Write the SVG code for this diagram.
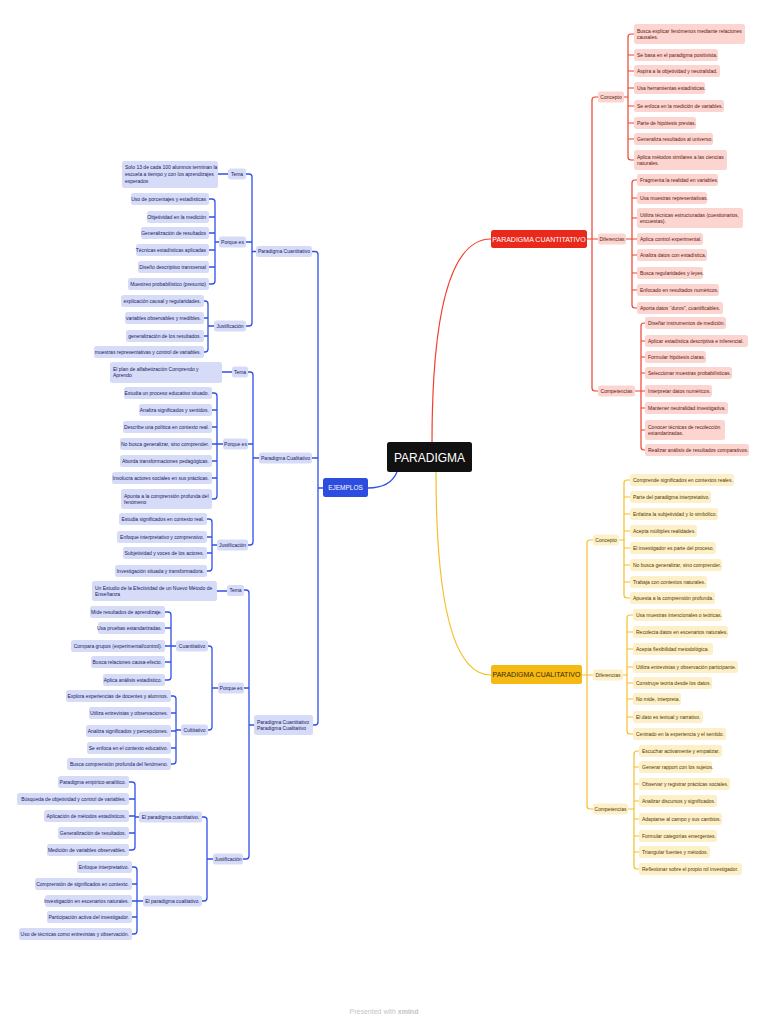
<svg xmlns="http://www.w3.org/2000/svg" width="768" height="1024" viewBox="0 0 768 1024">
<style>
text{font-family:"Liberation Sans",Arial,sans-serif;font-size:5px}
.r{fill:#fcd5d1}.y{fill:#fdf0c9}.b{fill:#d6dbf8}
rect{rx:2.5px}
.tr{fill:#5a170f}.ty{fill:#4d3900}.tb{fill:#18205e}
.m{text-anchor:middle}.e{text-anchor:end}
.cr{fill:none;stroke:#f0402f;stroke-width:1.2}
.cy{fill:none;stroke:#f5bf28;stroke-width:1.2}
.cb{fill:none;stroke:#3050e8;stroke-width:1.3}
.big{font-size:7px;fill:#fff}
</style>
<rect width="768" height="1024" fill="#fff"/>
<g id="connectors">
<path class="cr" stroke-width="1.5" d="M432,443 C432,320 448,239 491,239"/>
<path class="cr" d="M587,239 H598 M598,97 H595 Q592,97 592,100 V388 Q592,391 595,391 H598"/>
<path class="cr" d="M624,97 H628 M634,34 H631 Q628,34 628,37 V157 Q628,160 631,160 H634 M628,55 H634 M628,71 H634 M628,88 H634 M628,106 H634 M628,123 H634 M628,139 H634"/>
<path class="cr" d="M626,239 H632 M637,180 H635 Q632,180 632,183 V305 Q632,308 635,308 H637 M632,198 H637 M632,218 H637 M632,239 H637 M632,255 H637 M632,273 H637 M632,290 H637"/>
<path class="cr" d="M635,391 H641 M645,323 H644 Q641,323 641,326 V447 Q641,450 644,450 H645 M641,341 H645 M641,357 H645 M641,373 H645 M641,391 H645 M641,408 H645 M641,430 H645"/>
<path class="cy" stroke-width="1.5" d="M436,472 C436,600 452,675 491,675"/>
<path class="cy" d="M582,675 H593 M593,540 H590 Q587,540 587,543 V806 Q587,809 590,809 H593"/>
<path class="cy" d="M619,540 H624 M630,480 H627 Q624,480 624,483 V595 Q624,598 627,598 H630 M624,497 H630 M624,514 H630 M624,531 H630 M624,548 H630 M624,565 H630 M624,582 H630"/>
<path class="cy" d="M623,675 H627 M633,615 H630 Q627,615 627,618 V731 Q627,734 630,734 H633 M627,632 H633 M627,649 H633 M627,667 H633 M627,683 H633 M627,699 H633 M627,717 H633"/>
<path class="cy" d="M628,809 H634 M639,751 H637 Q634,751 634,754 V866 Q634,869 637,869 H639 M634,767 H639 M634,784 H639 M634,801 H639 M634,819 H639 M634,836 H639 M634,852 H639"/>
<path class="cb" stroke-width="1.6" d="M397,472 C392,484 382,488 368,488"/>
<path class="cb" d="M323,488 H318 M312,251.5 H315 Q318,251.5 318,254.5 V722 Q318,725 315,725 H313 M318,458 H312"/>
<path class="cb" d="M256,251.5 H252 M246,174 H249 Q252,174 252,177 V323 Q252,326 249,326 H246 M252,242 H246"/>
<path class="cb" stroke-width="1.6" d="M218,174 H228 M222,372 H232 M217,591 H227"/>
<path class="cb" d="M219,242 H215 M209,199 H212 Q215,199 215,202 V281 Q215,284 212,284 H209 M215,217 H209 M215,233 H209 M215,250 H209 M215,267 H209"/>
<path class="cb" d="M214,326 H208 M204,301 H205 Q208,301 208,304 V349 Q208,352 205,352 H204 M208,318 H204 M208,336 H204"/>
<path class="cb" d="M259,458 H253 M248,372 H250 Q253,372 253,375 V542 Q253,545 250,545 H248 M253,444 H248"/>
<path class="cb" d="M223,444 H217 M212,393 H214 Q217,393 217,396 V496 Q217,499 214,499 H212 M217,410 H212 M217,427 H212 M217,444 H212 M217,461 H212 M217,478 H212"/>
<path class="cb" d="M217,545 H212 M207,519 H209 Q212,519 212,522 V568 Q212,571 209,571 H207 M212,537 H207 M212,553 H207"/>
<path class="cb" d="M254,725 H249 M244,590 H246 Q249,590 249,593 V856 Q249,859 246,859 H243 M249,688 H244"/>
<path class="cb" d="M218,688 H212 M208,646 H209 Q212,646 212,649 V727 Q212,730 209,730 H208"/>
<path class="cb" d="M176,646 H171 M165,612 H168 Q171,612 171,615 V677 Q171,680 168,680 H165 M171,628 H165 M171,646 H165 M171,662 H165"/>
<path class="cb" d="M181,730 H176 M171,696 H173 Q176,696 176,699 V761 Q176,764 173,764 H171 M176,713 H171 M176,731 H171 M176,748 H171"/>
<path class="cb" d="M213,859 H207 M202,817 H204 Q207,817 207,820 V898 Q207,901 204,901 H202"/>
<path class="cb" d="M139,817 H135 M129,782 H132 Q135,782 135,785 V847 Q135,850 132,850 H129 M135,799 H129 M135,816 H129 M135,833 H129"/>
<path class="cb" d="M143,901 H137 M132,867 H134 Q137,867 137,870 V931 Q137,934 134,934 H132 M137,884 H132 M137,901 H132 M137,917 H132"/>
</g>
<g id="paradigma"><rect x="387" y="442" width="85" height="30" rx="4" fill="#111"/><text x="429.5" y="461.5" class="m" style="font-size:12px" fill="#fff">PARADIGMA</text></g>
<g id="cuantitativo"><rect x="491" y="230" width="96" height="18" rx="3" fill="#e8291c"/><text x="539" y="241.5" class="m big">PARADIGMA CUANTITATIVO</text></g>
<g id="cualitativo"><rect x="491" y="665" width="91" height="19" rx="3" fill="#f5b913"/><text x="536.5" y="677" class="m big" style="fill:#3b2a00">PARADIGMA CUALITATIVO</text></g>
<g id="ejemplos"><rect x="323" y="478" width="45" height="19" rx="3" fill="#2d4de0"/><text x="345.5" y="490" class="m" style="font-size:6.5px;fill:#fff">EJEMPLOS</text></g>
<g id="r-concepto"><rect class="r" x="598" y="91.5" width="26" height="11"/><text class="tr m" x="611" y="98.8">Concepto</text></g>
<g id="r-diferencias"><rect class="r" x="598" y="233.5" width="28" height="11"/><text class="tr m" x="612" y="240.8">Diferencias</text></g>
<g id="r-competencias"><rect class="r" x="598" y="385.5" width="37" height="11"/><text class="tr m" x="616.5" y="392.8">Competencias</text></g>
<g id="rc1"><rect class="r" x="634" y="24" width="111" height="20"/><text class="tr" x="637" y="32.6">Busca explicar fenómenos mediante relaciones</text><text class="tr" x="637" y="39">causales.</text></g>
<g id="rc2"><rect class="r" x="634" y="49" width="84" height="12"/><text class="tr" x="637" y="56.8">Se basa en el paradigma positivista.</text></g>
<g id="rc3"><rect class="r" x="634" y="65" width="86" height="12"/><text class="tr" x="637" y="72.8">Aspira a la objetividad y neutralidad.</text></g>
<g id="rc4"><rect class="r" x="634" y="82" width="71" height="12"/><text class="tr" x="637" y="89.8">Usa herramientas estadísticas.</text></g>
<g id="rc5"><rect class="r" x="634" y="100" width="90" height="12"/><text class="tr" x="637" y="107.8">Se enfoca en la medición de variables.</text></g>
<g id="rc6"><rect class="r" x="634" y="117" width="62" height="12"/><text class="tr" x="637" y="124.8">Parte de hipótesis previas.</text></g>
<g id="rc7"><rect class="r" x="634" y="133" width="79" height="12"/><text class="tr" x="637" y="140.8">Generaliza resultados al universo.</text></g>
<g id="rc8"><rect class="r" x="634" y="150" width="93" height="20"/><text class="tr" x="637" y="158.6">Aplica métodos similares a las ciencias</text><text class="tr" x="637" y="165">naturales.</text></g>
<g id="rd1"><rect class="r" x="637" y="174" width="81" height="12"/><text class="tr" x="640" y="181.8">Fragmenta la realidad en variables.</text></g>
<g id="rd2"><rect class="r" x="637" y="192" width="70" height="12"/><text class="tr" x="640" y="199.8">Usa muestras representativas.</text></g>
<g id="rd3"><rect class="r" x="637" y="208" width="106" height="20"/><text class="tr" x="640" y="216.6">Utiliza técnicas estructuradas (cuestionarios,</text><text class="tr" x="640" y="223">encuestas).</text></g>
<g id="rd4"><rect class="r" x="637" y="233" width="66" height="12"/><text class="tr" x="640" y="240.8">Aplica control experimental.</text></g>
<g id="rd5"><rect class="r" x="637" y="249" width="70" height="12"/><text class="tr" x="640" y="256.8">Analiza datos con estadística.</text></g>
<g id="rd6"><rect class="r" x="637" y="267" width="66" height="12"/><text class="tr" x="640" y="274.8">Busca regularidades y leyes.</text></g>
<g id="rd7"><rect class="r" x="637" y="284" width="82" height="12"/><text class="tr" x="640" y="291.8">Enfocado en resultados numéricos.</text></g>
<g id="rd8"><rect class="r" x="637" y="302" width="86" height="12"/><text class="tr" x="640" y="309.8">Aporta datos “duros”, cuantificables.</text></g>
<g id="rk1"><rect class="r" x="645" y="317" width="81" height="12"/><text class="tr" x="648" y="324.8">Diseñar instrumentos de medición.</text></g>
<g id="rk2"><rect class="r" x="645" y="335" width="103" height="12"/><text class="tr" x="648" y="342.8">Aplicar estadística descriptiva e inferencial.</text></g>
<g id="rk3"><rect class="r" x="645" y="351" width="61" height="12"/><text class="tr" x="648" y="358.8">Formular hipótesis claras.</text></g>
<g id="rk4"><rect class="r" x="645" y="367" width="87" height="12"/><text class="tr" x="648" y="374.8">Seleccionar muestras probabilísticas.</text></g>
<g id="rk5"><rect class="r" x="645" y="385" width="67" height="12"/><text class="tr" x="648" y="392.8">Interpretar datos numéricos.</text></g>
<g id="rk6"><rect class="r" x="645" y="402" width="83" height="12"/><text class="tr" x="648" y="409.8">Mantener neutralidad investigativa.</text></g>
<g id="rk7"><rect class="r" x="645" y="420" width="80" height="20"/><text class="tr" x="648" y="428.6">Conocer técnicas de recolección</text><text class="tr" x="648" y="435">estandarizadas.</text></g>
<g id="rk8"><rect class="r" x="645" y="444" width="104" height="12"/><text class="tr" x="648" y="451.8">Realizar análisis de resultados comparativos.</text></g>
<g id="y-concepto"><rect class="y" x="593" y="534.5" width="26" height="11"/><text class="ty m" x="606" y="541.8">Concepto</text></g>
<g id="y-diferencias"><rect class="y" x="593" y="669.5" width="30" height="11"/><text class="ty m" x="608" y="676.8">Diferencias</text></g>
<g id="y-competencias"><rect class="y" x="593" y="803.5" width="35" height="11"/><text class="ty m" x="610.5" y="810.8">Competencias</text></g>
<g id="yc1"><rect class="y" x="630" y="474" width="104" height="12"/><text class="ty" x="633" y="481.8">Comprende significados en contextos reales.</text></g>
<g id="yc2"><rect class="y" x="630" y="491" width="81" height="12"/><text class="ty" x="633" y="498.8">Parte del paradigma interpretativo.</text></g>
<g id="yc3"><rect class="y" x="630" y="508" width="88" height="12"/><text class="ty" x="633" y="515.8">Enfatiza la subjetividad y lo simbólico.</text></g>
<g id="yc4"><rect class="y" x="630" y="525" width="67" height="12"/><text class="ty" x="633" y="532.8">Acepta múltiples realidades.</text></g>
<g id="yc5"><rect class="y" x="630" y="542" width="86" height="12"/><text class="ty" x="633" y="549.8">El investigador es parte del proceso.</text></g>
<g id="yc6"><rect class="y" x="630" y="559" width="92" height="12"/><text class="ty" x="633" y="566.8">No busca generalizar, sino comprender.</text></g>
<g id="yc7"><rect class="y" x="630" y="576" width="77" height="12"/><text class="ty" x="633" y="583.8">Trabaja con contextos naturales.</text></g>
<g id="yc8"><rect class="y" x="630" y="592" width="85" height="12"/><text class="ty" x="633" y="599.8">Apuesta a la comprensión profunda.</text></g>
<g id="yd1"><rect class="y" x="633" y="609" width="89" height="12"/><text class="ty" x="636" y="616.8">Usa muestras intencionales o teóricas.</text></g>
<g id="yd2"><rect class="y" x="633" y="626" width="95" height="12"/><text class="ty" x="636" y="633.8">Recolecta datos en escenarios naturales.</text></g>
<g id="yd3"><rect class="y" x="633" y="643" width="80" height="12"/><text class="ty" x="636" y="650.8">Acepta flexibilidad metodológica.</text></g>
<g id="yd4"><rect class="y" x="633" y="661" width="105" height="12"/><text class="ty" x="636" y="668.8">Utiliza entrevistas y observación participante.</text></g>
<g id="yd5"><rect class="y" x="633" y="677" width="79" height="12"/><text class="ty" x="636" y="684.8">Construye teoría desde los datos.</text></g>
<g id="yd6"><rect class="y" x="633" y="693" width="48" height="12"/><text class="ty" x="636" y="700.8">No mide, interpreta.</text></g>
<g id="yd7"><rect class="y" x="633" y="711" width="70" height="12"/><text class="ty" x="636" y="718.8">El dato es textual y narrativo.</text></g>
<g id="yd8"><rect class="y" x="633" y="728" width="93" height="12"/><text class="ty" x="636" y="735.8">Centrado en la experiencia y el sentido.</text></g>
<g id="yk1"><rect class="y" x="639" y="745" width="83" height="12"/><text class="ty" x="642" y="752.8">Escuchar activamente y empatizar.</text></g>
<g id="yk2"><rect class="y" x="639" y="761" width="73" height="12"/><text class="ty" x="642" y="768.8">Generar rapport con los sujetos.</text></g>
<g id="yk3"><rect class="y" x="639" y="778" width="91" height="12"/><text class="ty" x="642" y="785.8">Observar y registrar prácticas sociales.</text></g>
<g id="yk4"><rect class="y" x="639" y="795" width="78" height="12"/><text class="ty" x="642" y="802.8">Analizar discursos y significados.</text></g>
<g id="yk5"><rect class="y" x="639" y="813" width="83" height="12"/><text class="ty" x="642" y="820.8">Adaptarse al campo y sus cambios.</text></g>
<g id="yk6"><rect class="y" x="639" y="830" width="78" height="12"/><text class="ty" x="642" y="837.8">Formular categorías emergentes.</text></g>
<g id="yk7"><rect class="y" x="639" y="846" width="71" height="12"/><text class="ty" x="642" y="853.8">Triangular fuentes y métodos.</text></g>
<g id="yk8"><rect class="y" x="639" y="863" width="103" height="12"/><text class="ty" x="642" y="870.8">Reflexionar sobre el propio rol investigador.</text></g>
<g id="b-pq"><rect class="b" x="256" y="246" width="56" height="11"/><text class="tb m" x="284" y="253.3">Paradigma Cuantitativo</text></g>
<g id="b-pq-tema"><rect class="b" x="228" y="168.5" width="18" height="11"/><text class="tb m" x="237" y="175.8">Tema</text></g>
<g id="b-pq-tema-1"><rect class="b" x="122" y="161" width="96" height="27"/><text class="tb" x="125" y="169.3">Solo 13 de cada 100 alumnos terminan la</text><text class="tb" x="125" y="176.3">escuela a tiempo y con los aprendizajes</text><text class="tb" x="125" y="183.3">esperados</text></g>
<g id="b-pq-porque"><rect class="b" x="219" y="236.5" width="27" height="11"/><text class="tb m" x="232.5" y="243.8">Porque es</text></g>
<g id="b-pq-p1"><rect class="b" x="131" y="193" width="78" height="12"/><text class="tb e" x="206" y="200.8">Uso de porcentajes y estadísticas</text></g>
<g id="b-pq-p2"><rect class="b" x="147" y="211" width="62" height="12"/><text class="tb e" x="206" y="218.8">Objetividad en la medición</text></g>
<g id="b-pq-p3"><rect class="b" x="141" y="227" width="68" height="12"/><text class="tb e" x="206" y="234.8">Generalización de resultados</text></g>
<g id="b-pq-p4"><rect class="b" x="136" y="244" width="73" height="12"/><text class="tb e" x="206" y="251.8">Técnicas estadísticas aplicadas</text></g>
<g id="b-pq-p5"><rect class="b" x="138" y="261" width="71" height="12"/><text class="tb e" x="206" y="268.8">Diseño descriptivo transversal</text></g>
<g id="b-pq-p6"><rect class="b" x="128" y="278" width="81" height="12"/><text class="tb e" x="206" y="285.8">Muestreo probabilístico (presunto)</text></g>
<g id="b-pq-just"><rect class="b" x="214" y="320.5" width="32" height="11"/><text class="tb m" x="230" y="327.8">Justificación</text></g>
<g id="b-pq-j1"><rect class="b" x="121" y="295" width="83" height="12"/><text class="tb e" x="201" y="302.8">explicación causal y regularidades.</text></g>
<g id="b-pq-j2"><rect class="b" x="125" y="312" width="79" height="12"/><text class="tb e" x="201" y="319.8">variables observables y medibles.</text></g>
<g id="b-pq-j3"><rect class="b" x="126" y="330" width="78" height="12"/><text class="tb e" x="201" y="337.8">generalización de los resultados.</text></g>
<g id="b-pq-j4"><rect class="b" x="94" y="346" width="110" height="12"/><text class="tb e" x="201" y="353.8">muestras representativas y control de variables.</text></g>
<g id="b-pl"><rect class="b" x="259" y="452.5" width="53" height="11"/><text class="tb m" x="285.5" y="459.8">Paradigma Cualitativo</text></g>
<g id="b-pl-tema"><rect class="b" x="232" y="366.5" width="16" height="11"/><text class="tb m" x="240" y="373.8">Tema</text></g>
<g id="b-pl-tema-1"><rect class="b" x="110" y="362" width="112" height="21"/><text class="tb" x="113" y="370.8">El plan de alfabetización Comprendo y</text><text class="tb" x="113" y="377.4">Aprendo</text></g>
<g id="b-pl-porque"><rect class="b" x="223" y="438.5" width="25" height="11"/><text class="tb m" x="235.5" y="445.8">Porque es</text></g>
<g id="b-pl-p1"><rect class="b" x="124" y="387" width="88" height="12"/><text class="tb e" x="209" y="394.8">Estudia un proceso educativo situado.</text></g>
<g id="b-pl-p2"><rect class="b" x="139" y="404" width="73" height="12"/><text class="tb e" x="209" y="411.8">Analiza significados y sentidos.</text></g>
<g id="b-pl-p3"><rect class="b" x="123" y="421" width="89" height="12"/><text class="tb e" x="209" y="428.8">Describe una política en contexto real.</text></g>
<g id="b-pl-p4"><rect class="b" x="120" y="438" width="92" height="12"/><text class="tb e" x="209" y="445.8">No busca generalizar, sino comprender.</text></g>
<g id="b-pl-p5"><rect class="b" x="120" y="455" width="92" height="12"/><text class="tb e" x="209" y="462.8">Aborda transformaciones pedagógicas.</text></g>
<g id="b-pl-p6"><rect class="b" x="112" y="472" width="100" height="12"/><text class="tb e" x="209" y="479.8">Involucra actores sociales en sus prácticas.</text></g>
<g id="b-pl-p7"><rect class="b" x="121" y="489" width="91" height="20"/><text class="tb" x="124" y="497.6">Apunta a la comprensión profunda del</text><text class="tb" x="124" y="504">fenómeno</text></g>
<g id="b-pl-just"><rect class="b" x="217" y="539.5" width="31" height="11"/><text class="tb m" x="232.5" y="546.8">Justificación</text></g>
<g id="b-pl-j1"><rect class="b" x="119" y="513" width="88" height="12"/><text class="tb e" x="204" y="520.8">Estudia significados en contexto real.</text></g>
<g id="b-pl-j2"><rect class="b" x="117" y="531" width="90" height="12"/><text class="tb e" x="204" y="538.8">Enfoque interpretativo y comprensivo.</text></g>
<g id="b-pl-j3"><rect class="b" x="123" y="547" width="84" height="12"/><text class="tb e" x="204" y="554.8">Subjetividad y voces de los actores.</text></g>
<g id="b-pl-j4"><rect class="b" x="115" y="565" width="92" height="12"/><text class="tb e" x="204" y="572.8">Investigación situada y transformadora.</text></g>
<g id="b-pb"><rect class="b" x="254" y="715" width="59" height="20"/><text class="tb" x="257" y="723.6">Paradigma Cuantitativo</text><text class="tb" x="257" y="730">Paradigma Cualitativo</text></g>
<g id="b-pb-tema"><rect class="b" x="227" y="585" width="17" height="11"/><text class="tb m" x="235.5" y="592.3">Tema</text></g>
<g id="b-pb-tema-1"><rect class="b" x="92" y="581" width="125" height="20"/><text class="tb" x="95" y="589.6">Un Estudio de la Efectividad de un Nuevo Método de</text><text class="tb" x="95" y="596">Enseñanza</text></g>
<g id="b-pb-porque"><rect class="b" x="218" y="682.5" width="26" height="11"/><text class="tb m" x="231" y="689.8">Porque es</text></g>
<g id="b-pb-cuant"><rect class="b" x="176" y="640.5" width="32" height="11"/><text class="tb m" x="192" y="647.8">Cuantitativo</text></g>
<g id="b-pb-c1"><rect class="b" x="90" y="606" width="75" height="12"/><text class="tb e" x="162" y="613.8">Mide resultados de aprendizaje.</text></g>
<g id="b-pb-c2"><rect class="b" x="98" y="622" width="67" height="12"/><text class="tb e" x="162" y="629.8">Usa pruebas estandarizadas.</text></g>
<g id="b-pb-c3"><rect class="b" x="71" y="640" width="94" height="12"/><text class="tb e" x="162" y="647.8">Compara grupos (experimental/control).</text></g>
<g id="b-pb-c4"><rect class="b" x="91" y="656" width="74" height="12"/><text class="tb e" x="162" y="663.8">Busca relaciones causa-efecto.</text></g>
<g id="b-pb-c5"><rect class="b" x="103" y="674" width="62" height="12"/><text class="tb e" x="162" y="681.8">Aplica análisis estadístico.</text></g>
<g id="b-pb-cual"><rect class="b" x="181" y="724.5" width="27" height="11"/><text class="tb m" x="194.5" y="731.8">Cultitativo</text></g>
<g id="b-pb-q1"><rect class="b" x="66" y="690" width="105" height="12"/><text class="tb e" x="168" y="697.8">Explora experiencias de docentes y alumnos.</text></g>
<g id="b-pb-q2"><rect class="b" x="89" y="707" width="82" height="12"/><text class="tb e" x="168" y="714.8">Utiliza entrevistas y observaciones.</text></g>
<g id="b-pb-q3"><rect class="b" x="86" y="725" width="85" height="12"/><text class="tb e" x="168" y="732.8">Analiza significados y percepciones.</text></g>
<g id="b-pb-q4"><rect class="b" x="87" y="742" width="84" height="12"/><text class="tb e" x="168" y="749.8">Se enfoca en el contexto educativo.</text></g>
<g id="b-pb-q5"><rect class="b" x="67" y="758" width="104" height="12"/><text class="tb e" x="168" y="765.8">Busca comprensión profunda del fenómeno.</text></g>
<g id="b-pb-just"><rect class="b" x="213" y="853.5" width="30" height="11"/><text class="tb m" x="228" y="860.8">Justificación</text></g>
<g id="b-pb-jcuant"><rect class="b" x="139" y="811.5" width="63" height="11"/><text class="tb m" x="170.5" y="818.8">El paradigma cuantitativo.</text></g>
<g id="b-pb-jc1"><rect class="b" x="58" y="776" width="71" height="12"/><text class="tb e" x="126" y="783.8">Paradigma empírico-analítico.</text></g>
<g id="b-pb-jc2"><rect class="b" x="17" y="793" width="112" height="12"/><text class="tb e" x="126" y="800.8">Búsqueda de objetividad y control de variables.</text></g>
<g id="b-pb-jc3"><rect class="b" x="44" y="810" width="85" height="12"/><text class="tb e" x="126" y="817.8">Aplicación de métodos estadísticos.</text></g>
<g id="b-pb-jc4"><rect class="b" x="58" y="827" width="71" height="12"/><text class="tb e" x="126" y="834.8">Generalización de resultados.</text></g>
<g id="b-pb-jc5"><rect class="b" x="47" y="844" width="82" height="12"/><text class="tb e" x="126" y="851.8">Medición de variables observables.</text></g>
<g id="b-pb-jcual"><rect class="b" x="143" y="895.5" width="59" height="11"/><text class="tb m" x="172.5" y="902.8">El paradigma cualitativo.</text></g>
<g id="b-pb-jq1"><rect class="b" x="77" y="861" width="55" height="12"/><text class="tb e" x="129" y="868.8">Enfoque interpretativo.</text></g>
<g id="b-pb-jq2"><rect class="b" x="35" y="878" width="97" height="12"/><text class="tb e" x="129" y="885.8">Comprensión de significados en contexto.</text></g>
<g id="b-pb-jq3"><rect class="b" x="45" y="895" width="87" height="12"/><text class="tb e" x="129" y="902.8">Investigación en escenarios naturales.</text></g>
<g id="b-pb-jq4"><rect class="b" x="47" y="911" width="85" height="12"/><text class="tb e" x="129" y="918.8">Participación activa del investigador.</text></g>
<g id="b-pb-jq5"><rect class="b" x="19" y="928" width="113" height="12"/><text class="tb e" x="129" y="935.8">Uso de técnicas como entrevistas y observación.</text></g>
<text x="384" y="1014" class="m" style="font-size:7px;fill:#c4c4c4">Presented with <tspan font-weight="bold">xmind</tspan></text>
</svg>
